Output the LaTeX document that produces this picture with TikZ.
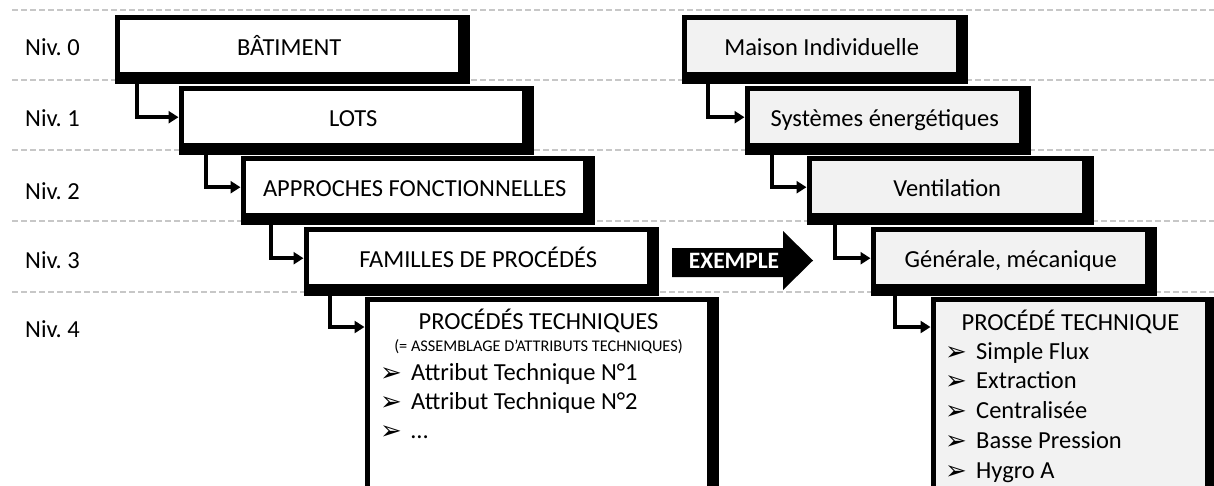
\documentclass[tikz,border=0pt]{standalone}
\usepackage{fontspec}
\setmainfont{Carlito}
\newfontfamily\puce{DejaVu Sans}
\usetikzlibrary{arrows.meta}

\pgfdeclarelayer{fond}
\pgfdeclarelayer{ombre}
\pgfsetlayers{fond,ombre,main}

\newcommand{\fleche}{\makebox[31pt][l]{\raisebox{-1pt}{\puce\fontsize{26}{28}\selectfont ➢}}}

\tikzset{
    niveau/.style={fill=white, anchor=north west, inner sep=0pt,
        minimum width=338pt, minimum height=52pt,
        text height=19pt, text depth=0pt, font=\fontsize{24.5}{29}\selectfont},
    exemple/.style={niveau, fill=black!5, minimum width=269pt},
    cadre/.style={fill=black},
    lien/.style={line width=3.5pt, -{Triangle[length=10pt,width=12pt]}},
    grille/.style={black!22, line width=1.3pt, dash pattern=on 6pt off 3pt},
    etiquette/.style={anchor=base west, inner sep=0pt, font=\fontsize{24.5}{29}\selectfont},
}

\begin{document}
\begin{tikzpicture}[x=1pt, y=-1pt]
    \useasboundingbox (0,0) rectangle (1214,485);
    \clip (0,0) rectangle (1214,485);

    % Lignes de séparation des niveaux.
    \begin{pgfonlayer}{fond}
        \draw[grille] (12,10) -- (1214,10);
        \draw[grille] (12,80) -- (1214,80);
        \draw[grille] (12,150) -- (1214,150);
        \draw[grille] (12,221) -- (1214,221);
        \draw[grille] (12,292) -- (1214,292);
    \end{pgfonlayer}

    \node[etiquette] (niv0) at (25,55) {Niv.\ 0};
    \node[etiquette] (niv1) at (25,126) {Niv.\ 1};
    \node[etiquette] (niv2) at (25,199) {Niv.\ 2};
    \node[etiquette] (niv3) at (25,268) {Niv.\ 3};
    \node[etiquette] (niv4) at (25,337) {Niv.\ 4};

    % Arborescence générique.
    \node[niveau] (bat) at (120,20) {BÂTIMENT};
    \node[niveau] (lots) at (184,91) {LOTS};
    \node[niveau, minimum width=337pt] (appr) at (246,161) {APPROCHES FONCTIONNELLES};
    \node[niveau] (fam) at (309,232) {FAMILLES DE PROCÉDÉS};
    \node[niveau, minimum width=337pt, minimum height=230pt] (proc) at (370,302) {};

    \node[etiquette, anchor=base] (proctitre) at (538.5,329) {PROCÉDÉS TECHNIQUES};
    \node[etiquette, anchor=base, font=\fontsize{16.3}{19}\selectfont] (procsous)
        at (538.5,351) {(= ASSEMBLAGE D’ATTRIBUTS TECHNIQUES)};
    \node[etiquette] (attr1) at (380,380) {\fleche Attribut Technique N°1};
    \node[etiquette] (attr2) at (380,409) {\fleche Attribut Technique N°2};
    \node[etiquette] (attr3) at (380,438) {\fleche …};

    % Flèche vers l'exemple.
    \fill (672,248) -- (783,248) -- (783,231) -- (813,260.5) -- (783,290)
        -- (783,277) -- (672,277) -- cycle;
    \node[etiquette, anchor=base, white, font=\bfseries\fontsize{23.5}{27}\selectfont]
        (ex) at (734,268.5) {EXEMPLE};

    % Exemple : maison individuelle.
    \node[exemple] (maison) at (687,20) {Maison Individuelle};
    \node[exemple] (syst) at (750,91) {Systèmes énergétiques};
    \node[exemple, minimum width=270pt] (vent) at (812,161) {Ventilation};
    \node[exemple] (gen) at (876,232) {Générale, mécanique};
    \node[exemple, minimum height=230pt] (tech) at (936,302) {};

    \node[etiquette, anchor=base] (techtitre) at (1070.5,330) {PROCÉDÉ TECHNIQUE};
    \node[etiquette] (opt1) at (945,359) {\fleche Simple Flux};
    \node[etiquette] (opt2) at (945,388) {\fleche Extraction};
    \node[etiquette] (opt3) at (945,418) {\fleche Centralisée};
    \node[etiquette] (opt4) at (945,448) {\fleche Basse Pression};
    \node[etiquette] (opt5) at (945,478) {\fleche Hygro A};

    % Cadres noirs, plus épais à droite et en bas.
    \begin{pgfonlayer}{ombre}
        \foreach \boite in {bat,lots,appr,fam,proc,maison,syst,vent,gen,tech}
            \fill[cadre] ([shift={(-5.5pt,5.5pt)}]\boite.north west)
                rectangle ([shift={(11.5pt,-11.5pt)}]\boite.south east);
    \end{pgfonlayer}

    \draw[lien] ([xshift=17pt]bat.south west) |- ([xshift=-5.5pt]lots.west);
    \draw[lien] ([xshift=22pt]lots.south west) |- ([xshift=-5.5pt]appr.west);
    \draw[lien] ([xshift=25pt]appr.south west) |- ([xshift=-5.5pt]fam.west);
    \draw[lien] ([xshift=21pt]fam.south west) |- ([xshift=-5.5pt,yshift=-25pt]proc.north west);

    \draw[lien] ([xshift=21pt]maison.south west) |- ([xshift=-5.5pt]syst.west);
    \draw[lien] ([xshift=22pt]syst.south west) |- ([xshift=-5.5pt]vent.west);
    \draw[lien] ([xshift=23pt]vent.south west) |- ([xshift=-5.5pt]gen.west);
    \draw[lien] ([xshift=19pt]gen.south west) |- ([xshift=-5.5pt,yshift=-25pt]tech.north west);
\end{tikzpicture}
\end{document}
